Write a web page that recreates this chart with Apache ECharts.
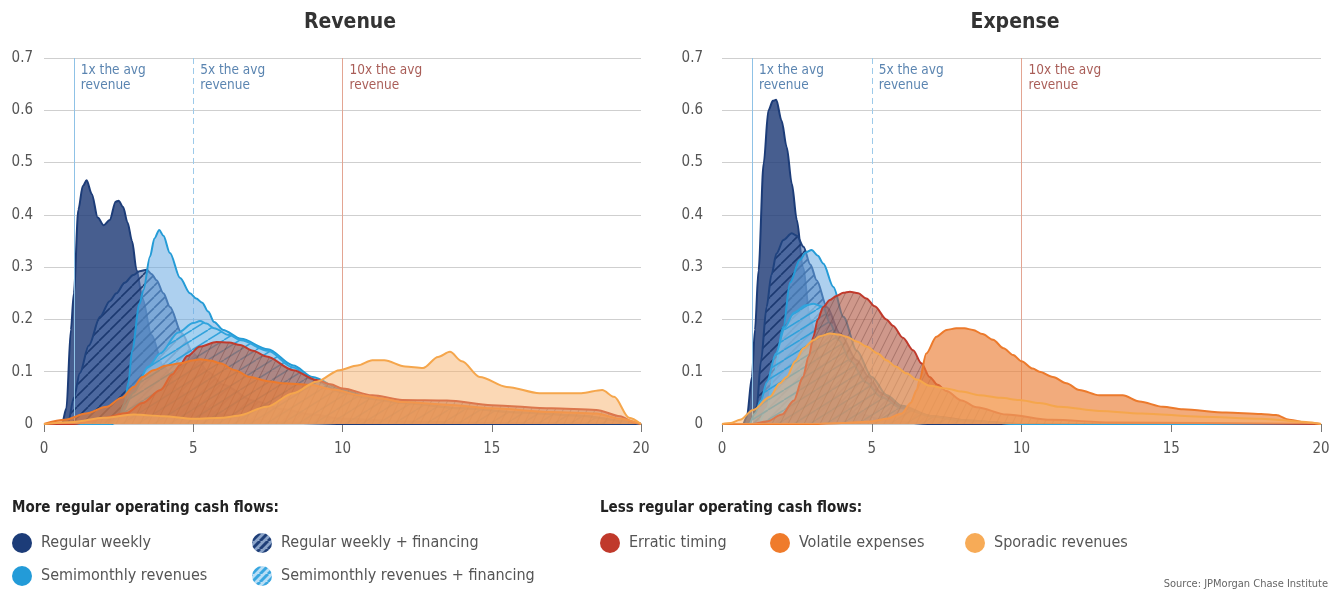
<!DOCTYPE html>
<html><head><meta charset="utf-8">
<script src="https://cdn.jsdelivr.net/npm/echarts@6/dist/echarts.min.js"></script>
<style>html,body{margin:0;padding:0;background:#fff}#c{width:1344px;height:591px}</style>
</head><body><div id="c"></div>
<script>
// ---------- DATA ----------
const panelTitles = ['Revenue', 'Expense'];
const xTicks = [0, 5, 10, 15, 20];
const yTickLabels = ['0', '0.1', '0.2', '0.3', '0.4', '0.5', '0.6', '0.7'];
const refLines = [1, 5, 10];
const refLabels = ['1x the avg\nrevenue', '5x the avg\nrevenue', '10x the avg\nrevenue'];
const seriesNames = ['Regular weekly', 'Regular weekly + financing', 'Semimonthly revenues',
  'Semimonthly revenues + financing', 'Erratic timing', 'Volatile expenses', 'Sporadic revenues'];
const legendHeadings = ['More regular operating cash flows:', 'Less regular operating cash flows:'];
const sourceText = 'Source: JPMorgan Chase Institute';

// Revenue panel densities [multiple of avg, density]
const revRegularWeekly = [[0,0],[0.6,0],[0.75,0.03],[0.9,0.18],[1.0,0.25],[1.15,0.41],[1.3,0.455],[1.43,0.466],[1.6,0.44],[1.8,0.395],[2.0,0.38],[2.2,0.39],[2.4,0.425],[2.5,0.427],[2.65,0.415],[2.8,0.385],[2.95,0.35],[3.1,0.295],[3.3,0.24],[3.6,0.17],[4.0,0.11],[4.5,0.065],[5,0.04],[6,0.018],[7,0.008],[8,0.003],[10,0],[20,0]];
const revRegularWeeklyFin = [[0,0],[0.8,0],[1.0,0.05],[1.2,0.097],[1.5,0.15],[1.88,0.205],[2.2,0.235],[2.43,0.25],[2.7,0.27],[2.99,0.285],[3.2,0.292],[3.44,0.295],[3.6,0.287],[3.77,0.275],[4.0,0.25],[4.22,0.224],[4.61,0.174],[5.0,0.135],[5.5,0.1],[6,0.075],[7,0.045],[8,0.028],[9,0.018],[10,0.01],[12,0.005],[15,0.002],[20,0]];
const revSemimonthly = [[0,0],[2.3,0],[2.5,0.01],[2.7,0.04],[2.83,0.08],[2.95,0.14],[3.2,0.23],[3.33,0.256],[3.55,0.32],[3.7,0.355],[3.86,0.371],[4.0,0.36],[4.22,0.327],[4.56,0.279],[4.89,0.25],[5.1,0.24],[5.3,0.232],[5.5,0.215],[5.7,0.195],[6.0,0.18],[6.6,0.163],[7.5,0.143],[8.35,0.112],[9.0,0.09],[10,0.065],[11,0.05],[12,0.042],[14,0.03],[16,0.022],[18,0.016],[19.5,0.005],[20,0]];
const revSemimonthlyFin = [[0,0],[2.2,0],[2.6,0.02],[3.0,0.06],[3.5,0.11],[3.89,0.135],[4.5,0.175],[5.0,0.193],[5.23,0.197],[5.45,0.192],[5.7,0.183],[6.2,0.17],[6.6,0.16],[7.5,0.14],[8.35,0.108],[9,0.085],[10,0.06],[11,0.048],[12,0.04],[14,0.03],[16,0.022],[18,0.016],[19.5,0.005],[20,0]];
const revErratic = [[0,0],[1.0,0],[1.5,0.005],[2.0,0.012],[2.77,0.021],[3.3,0.04],[3.9,0.065],[4.3,0.095],[4.56,0.113],[4.8,0.13],[5.23,0.148],[5.78,0.157],[6.2,0.156],[6.57,0.151],[7.0,0.14],[7.46,0.129],[8.35,0.103],[9.13,0.084],[9.6,0.076],[10,0.068],[11,0.055],[12,0.046],[13.5,0.045],[15,0.036],[17,0.03],[18.5,0.027],[19.3,0.015],[19.8,0.002],[20,0]];
const revVolatile = [[0,0],[0.7,0.008],[1.4,0.02],[2.1,0.033],[2.6,0.05],[3.0,0.071],[3.3,0.09],[3.66,0.103],[4.1,0.112],[4.56,0.116],[5.0,0.122],[5.23,0.124],[5.6,0.121],[5.9,0.116],[6.4,0.103],[6.9,0.09],[7.5,0.082],[8.0,0.078],[8.9,0.075],[9.7,0.066],[10.6,0.055],[11.3,0.049],[12,0.042],[13.5,0.037],[15,0.03],[17,0.023],[18.5,0.02],[19.3,0.01],[20,0]];
const revSporadic = [[0,0],[1,0.004],[2,0.012],[3,0.018],[4,0.015],[5,0.01],[6,0.012],[6.5,0.016],[7.46,0.033],[8.35,0.059],[9.13,0.081],[9.9,0.103],[10.5,0.112],[11,0.122],[11.4,0.122],[12.1,0.11],[12.7,0.107],[13.2,0.128],[13.6,0.138],[14.0,0.12],[14.6,0.09],[15.5,0.071],[16.6,0.059],[18,0.059],[18.7,0.065],[19.1,0.052],[19.6,0.012],[20,0]];

// Expense panel densities
const expRegularWeekly = [[0,0],[0.7,0],[0.83,0.014],[1.0,0.09],[1.1,0.18],[1.22,0.294],[1.39,0.498],[1.55,0.6],[1.7,0.618],[1.81,0.62],[1.99,0.58],[2.16,0.53],[2.33,0.46],[2.5,0.39],[2.7,0.3],[2.95,0.2],[3.3,0.11],[3.8,0.05],[4.5,0.02],[5.5,0.006],[7,0],[20,0]];
const expRegularWeeklyFin = [[0,0],[0.9,0],[1.16,0.033],[1.3,0.12],[1.49,0.224],[1.65,0.285],[1.82,0.326],[2.05,0.352],[2.33,0.365],[2.5,0.36],[2.72,0.339],[2.95,0.305],[3.16,0.275],[3.5,0.224],[3.94,0.173],[4.5,0.122],[4.9,0.09],[5.3,0.06],[6,0.032],[7,0.015],[8.5,0.005],[10,0],[20,0]];
const expSemimonthly = [[0,0],[1.2,0],[1.5,0.03],[1.75,0.1],[2.05,0.186],[2.27,0.27],[2.6,0.314],[2.8,0.328],[2.99,0.333],[3.2,0.322],[3.38,0.307],[3.72,0.262],[4.05,0.205],[4.5,0.14],[5,0.09],[5.5,0.055],[6,0.035],[7,0.015],[8,0.007],[10,0],[20,0]];
const expSemimonthlyFin = [[0,0],[0.9,0],[1.1,0.02],[1.3,0.045],[1.5,0.08],[1.8,0.135],[2.1,0.185],[2.4,0.213],[2.8,0.227],[3.05,0.23],[3.38,0.224],[3.6,0.193],[3.9,0.16],[4.3,0.12],[4.8,0.08],[5.3,0.052],[6,0.03],[7,0.015],[8,0.007],[10,0],[20,0]];
const expErratic = [[0,0],[1.0,0],[1.5,0.005],[2.0,0.018],[2.4,0.045],[2.7,0.09],[2.9,0.13],[3.05,0.167],[3.2,0.2],[3.38,0.224],[3.6,0.237],[3.82,0.245],[4.05,0.251],[4.27,0.253],[4.55,0.25],[4.82,0.24],[5.1,0.225],[5.49,0.2],[5.71,0.188],[6.04,0.165],[6.38,0.141],[6.66,0.116],[6.93,0.09],[7.2,0.075],[7.49,0.063],[8.0,0.045],[8.5,0.032],[9.5,0.018],[11,0.008],[13,0.003],[20,0]];
const expVolatile = [[0,0],[3,0],[4,0.002],[5,0.005],[5.5,0.01],[6.0,0.02],[6.3,0.04],[6.5,0.065],[6.6,0.085],[6.82,0.135],[7.16,0.167],[7.5,0.18],[7.82,0.183],[8.1,0.183],[8.38,0.18],[8.7,0.172],[9.05,0.161],[9.4,0.145],[9.72,0.132],[10.0,0.12],[10.38,0.106],[10.6,0.1],[11.05,0.09],[11.5,0.078],[11.93,0.065],[12.6,0.055],[13.38,0.055],[13.94,0.043],[14.72,0.033],[15.39,0.028],[16.83,0.022],[18.0,0.019],[18.5,0.017],[18.94,0.008],[19.6,0.002],[20,0]];
const expSporadic = [[0,0],[0.3,0.002],[0.6,0.008],[1.04,0.027],[1.6,0.052],[1.93,0.078],[2.16,0.09],[2.45,0.12],[2.72,0.145],[3.05,0.16],[3.27,0.168],[3.6,0.173],[3.9,0.171],[4.16,0.167],[4.5,0.158],[4.83,0.148],[5.2,0.135],[5.49,0.122],[5.8,0.11],[6.16,0.097],[6.5,0.085],[6.93,0.073],[7.49,0.068],[8.0,0.062],[8.6,0.055],[9.3,0.05],[9.93,0.046],[10.6,0.04],[11.27,0.033],[12.6,0.025],[14,0.02],[16,0.014],[18,0.01],[19.5,0.004],[20,0]];

const revenueSeries = [revRegularWeekly, revRegularWeeklyFin, revSemimonthly, revSemimonthlyFin, revErratic, revVolatile, revSporadic];
const expenseSeries = [expRegularWeekly, expRegularWeeklyFin, expSemimonthly, expSemimonthlyFin, expErratic, expVolatile, expSporadic];

// ---------- STYLE ----------
const FONT = "'DejaVu Sans Condensed','Liberation Sans Narrow','Roboto',sans-serif";
function hatch(bg, stroke, lw, w, h) {
  const c = document.createElement('canvas'); c.width = w; c.height = h;
  const g = c.getContext('2d');
  g.fillStyle = bg; g.fillRect(0, 0, w, h);
  g.strokeStyle = stroke; g.lineWidth = lw;
  for (const dx of [-w, 0, w]) { g.beginPath(); g.moveTo(dx, h); g.lineTo(dx + w, 0); g.stroke(); }
  return { image: c, repeat: 'repeat' };
}
const styles = [
  { line: '#1c3c78', fill: 'rgba(30,58,118,0.82)', legend: '#1c3c78' },
  { line: '#1f427e', fill: hatch('rgba(80,112,170,0.6)', 'rgba(25,55,110,0.95)', 1.6, 11, 11),
    legend: hatch('#8aa3c8', '#1f3f78', 3, 8, 8) },
  { line: '#249bd6', fill: 'rgba(105,170,225,0.55)', legend: '#239bd8' },
  { line: '#30a4dd', fill: hatch('rgba(160,210,240,0.55)', 'rgba(45,160,218,0.95)', 1.5, 16, 10),
    legend: hatch('#b9def5', '#3aa7e0', 3, 8, 8) },
  { line: '#c03a2c', fill: hatch('rgba(178,88,68,0.62)', 'rgba(95,45,40,0.35)', 1, 8, 16), legend: '#c0392b' },
  { line: '#ec7a2c', fill: 'rgba(236,128,56,0.66)', legend: '#ef7b2b' },
  { line: '#f5a64c', fill: 'rgba(248,178,108,0.5)', legend: '#f7ab57' }
];

function makeSeries(dataList, idx) {
  return dataList.map((d, i) => ({
    name: seriesNames[i], type: 'line', xAxisIndex: idx, yAxisIndex: idx, data: d,
    symbol: 'none', showSymbol: false, smooth: 0.3, smoothMonotone: 'x', silent: true, z: 3 + i,
    lineStyle: { color: styles[i].line, width: 2 },
    itemStyle: { color: styles[i].line },
    areaStyle: { color: styles[i].fill, opacity: 1 }
  }));
}
function annotationSeries(idx) {
  const colors = ['#31659c', '#31659c', '#93352d'];
  const lineColors = ['#8fc2e6', '#9ccaea', '#e3a592'];
  return {
    type: 'scatter', xAxisIndex: idx, yAxisIndex: idx, symbolSize: 0, silent: true, z: 1,
    data: refLines.map((x, k) => ({
      value: [x, 0.7],
      label: { show: true, formatter: refLabels[k], position: [7, 5], align: 'left', verticalAlign: 'top',
        color: colors[k], fontSize: 13.5, lineHeight: 15, fontFamily: FONT }
    })),
    markLine: {
      silent: true, symbol: ['none', 'none'], label: { show: false },
      data: refLines.map((x, k) => ({ xAxis: x, lineStyle: { color: lineColors[k], width: 1, type: k === 1 ? [6, 4] : 'solid' } }))
    }
  };
}

const grids = [
  { left: 44, top: 58, width: 597, height: 366 },
  { left: 722, top: 58, width: 599, height: 366 }
];
const xAxes = grids.map((g, i) => ({
  type: 'value', gridIndex: i, min: xTicks[0], max: xTicks[xTicks.length - 1], interval: xTicks[1] - xTicks[0],
  axisLine: { show: true, lineStyle: { color: '#c9c9c9' } },
  axisTick: { show: true, length: 8, lineStyle: { color: '#777' } },
  axisLabel: { color: '#555', fontSize: 15, margin: 18, fontFamily: FONT },
  splitLine: { show: false }
}));
const yAxes = grids.map((g, i) => ({
  type: 'value', gridIndex: i, min: 0, max: 0.7, interval: 0.1,
  axisLine: { show: false }, axisTick: { show: false },
  axisLabel: { color: '#555', fontSize: 15, margin: i === 0 ? 11 : 19, fontFamily: FONT,
    formatter: v => yTickLabels[Math.round(v * 10)] },
  splitLine: { lineStyle: { color: '#cfcfcf', width: 1 } }
}));

const legendPos = [
  [7, 528], [247, 528], [7, 561], [247, 561], [595, 528], [765, 528], [960, 528]
];
const legends = seriesNames.map((n, i) => ({
  left: legendPos[i][0], top: legendPos[i][1], itemWidth: 20, itemHeight: 20, selectedMode: false,
  textStyle: { color: '#555', fontSize: 16, fontFamily: FONT, padding: [0, 0, 0, 4] },
  data: [{ name: n, icon: 'circle', itemStyle: { color: styles[i].legend, borderWidth: 0 } }]
}));

const chart = echarts.init(document.getElementById('c'));
chart.setOption({
  backgroundColor: '#fff',
  animation: false,
  title: [
    { text: panelTitles[0], left: 345, top: 7, textAlign: 'center', textStyle: { fontSize: 21, fontWeight: 'bold', color: '#333', fontFamily: FONT } },
    { text: panelTitles[1], left: 1010, top: 7, textAlign: 'center', textStyle: { fontSize: 21, fontWeight: 'bold', color: '#333', fontFamily: FONT } }
  ],
  grid: grids,
  xAxis: xAxes,
  yAxis: yAxes,
  legend: legends,
  graphic: [
    { type: 'text', left: 12, top: 501, style: { text: legendHeadings[0], font: 'bold 15px ' + FONT, fill: '#222' } },
    { type: 'text', left: 600, top: 501, style: { text: legendHeadings[1], font: 'bold 15px ' + FONT, fill: '#222' } },
    { type: 'text', right: 16, top: 579, style: { text: sourceText, font: '11px ' + FONT, fill: '#666' } }
  ],
  series: [annotationSeries(0), annotationSeries(1), ...makeSeries(revenueSeries, 0), ...makeSeries(expenseSeries, 1)]
});
</script></body></html>
